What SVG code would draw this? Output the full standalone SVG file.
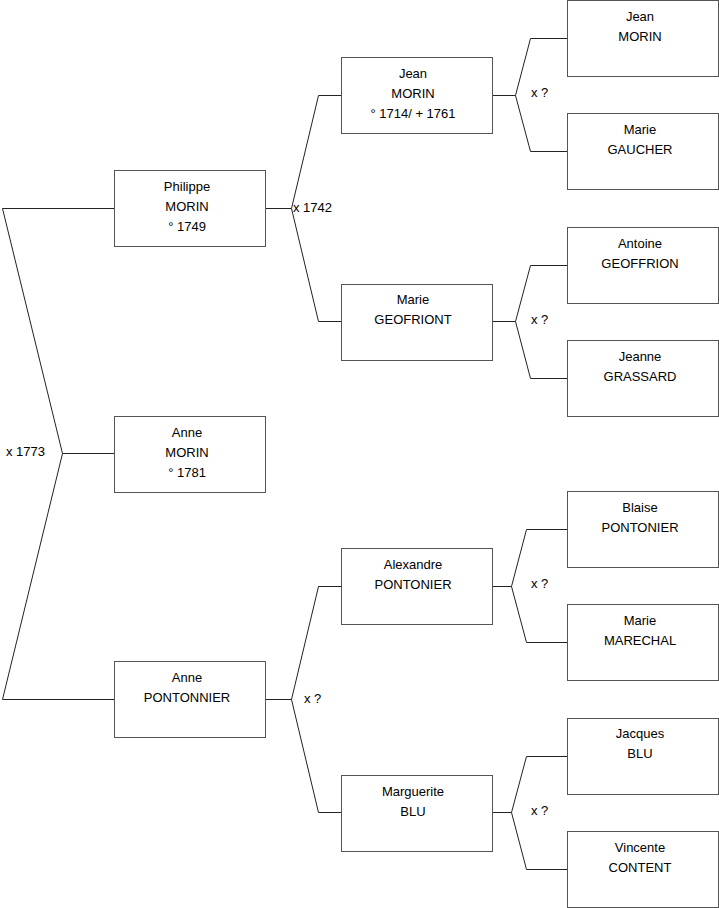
<svg xmlns="http://www.w3.org/2000/svg" width="719" height="908" viewBox="0 0 719 908">
<style>
.b{fill:#fff;stroke:#555;stroke-width:1}
.t{font-family:"Liberation Sans",Arial,sans-serif;font-size:13px;fill:#000;text-anchor:middle}
.l{font-family:"Liberation Sans",Arial,sans-serif;font-size:13px;fill:#000}
.c{fill:none;stroke:#222;stroke-width:1}
</style>
<rect width="719" height="908" fill="#fff"/>
<g id="connectors">
<polyline class="c" points="114.5,208.5 2.5,208.5 62.5,453.5 2.5,699.5 114.5,699.5"/>
<line class="c" x1="62.5" y1="453.5" x2="114.5" y2="453.5"/>
<polyline class="c" points="341.5,95.5 318.5,95.5 291.5,208.5 318.5,321.5 341.5,321.5"/>
<line class="c" x1="265.5" y1="208.5" x2="291.5" y2="208.5"/>
<polyline class="c" points="341.5,586.5 318.5,586.5 291.5,699.5 318.5,812.5 341.5,812.5"/>
<line class="c" x1="265.5" y1="699.5" x2="291.5" y2="699.5"/>
<polyline class="c" points="567.5,38.5 530.5,38.5 515.5,95.5 530.5,151.5 567.5,151.5"/>
<line class="c" x1="492.5" y1="95.5" x2="515.5" y2="95.5"/>
<polyline class="c" points="567.5,265.5 530.5,265.5 515.5,321.5 530.5,378.5 567.5,378.5"/>
<line class="c" x1="492.5" y1="321.5" x2="515.5" y2="321.5"/>
<polyline class="c" points="567.5,529.5 526.5,529.5 511.5,586.5 526.5,642.5 567.5,642.5"/>
<line class="c" x1="492.5" y1="586.5" x2="511.5" y2="586.5"/>
<polyline class="c" points="567.5,756.5 526.5,756.5 511.5,812.5 526.5,869.5 567.5,869.5"/>
<line class="c" x1="492.5" y1="812.5" x2="511.5" y2="812.5"/>
<text class="l" x="6" y="456">x 1773</text>
<text class="l" x="293" y="212">x 1742</text>
<text class="l" x="304" y="703">x ?</text>
<text class="l" x="531" y="97">x ?</text>
<text class="l" x="531" y="324">x ?</text>
<text class="l" x="531" y="588">x ?</text>
<text class="l" x="531" y="815">x ?</text>
</g>
<g id="philippe"><rect class="b" x="114.5" y="170.5" width="151" height="76"/><text class="t" x="187" y="191">Philippe</text><text class="t" x="187" y="211">MORIN</text><text class="t" x="187" y="231">° 1749</text></g>
<g id="anne-morin"><rect class="b" x="114.5" y="416.5" width="151" height="76"/><text class="t" x="187" y="437">Anne</text><text class="t" x="187" y="457">MORIN</text><text class="t" x="187" y="477">° 1781</text></g>
<g id="anne-pontonnier"><rect class="b" x="114.5" y="661.5" width="151" height="76"/><text class="t" x="187" y="682">Anne</text><text class="t" x="187" y="702">PONTONNIER</text></g>
<g id="jean-morin-1"><rect class="b" x="341.5" y="57.5" width="151" height="76"/><text class="t" x="413" y="78">Jean</text><text class="t" x="413" y="98">MORIN</text><text class="t" x="413" y="118">° 1714/ + 1761</text></g>
<g id="marie-geofriont"><rect class="b" x="341.5" y="284.5" width="151" height="76"/><text class="t" x="413" y="304">Marie</text><text class="t" x="413" y="324">GEOFRIONT</text></g>
<g id="alexandre"><rect class="b" x="341.5" y="548.5" width="151" height="76"/><text class="t" x="413" y="569">Alexandre</text><text class="t" x="413" y="589">PONTONIER</text></g>
<g id="marguerite"><rect class="b" x="341.5" y="775.5" width="151" height="76"/><text class="t" x="413" y="796">Marguerite</text><text class="t" x="413" y="816">BLU</text></g>
<g id="jean-morin-2"><rect class="b" x="567.5" y="0.5" width="151" height="76"/><text class="t" x="640" y="21">Jean</text><text class="t" x="640" y="41">MORIN</text></g>
<g id="marie-gaucher"><rect class="b" x="567.5" y="113.5" width="151" height="76"/><text class="t" x="640" y="134">Marie</text><text class="t" x="640" y="154">GAUCHER</text></g>
<g id="antoine"><rect class="b" x="567.5" y="227.5" width="151" height="76"/><text class="t" x="640" y="248">Antoine</text><text class="t" x="640" y="268">GEOFFRION</text></g>
<g id="jeanne"><rect class="b" x="567.5" y="340.5" width="151" height="76"/><text class="t" x="640" y="361">Jeanne</text><text class="t" x="640" y="381">GRASSARD</text></g>
<g id="blaise"><rect class="b" x="567.5" y="491.5" width="151" height="76"/><text class="t" x="640" y="512">Blaise</text><text class="t" x="640" y="532">PONTONIER</text></g>
<g id="marie-marechal"><rect class="b" x="567.5" y="604.5" width="151" height="76"/><text class="t" x="640" y="625">Marie</text><text class="t" x="640" y="645">MARECHAL</text></g>
<g id="jacques"><rect class="b" x="567.5" y="718.5" width="151" height="76"/><text class="t" x="640" y="738">Jacques</text><text class="t" x="640" y="758">BLU</text></g>
<g id="vincente"><rect class="b" x="567.5" y="831.5" width="151" height="76"/><text class="t" x="640" y="852">Vincente</text><text class="t" x="640" y="872">CONTENT</text></g>
</svg>
